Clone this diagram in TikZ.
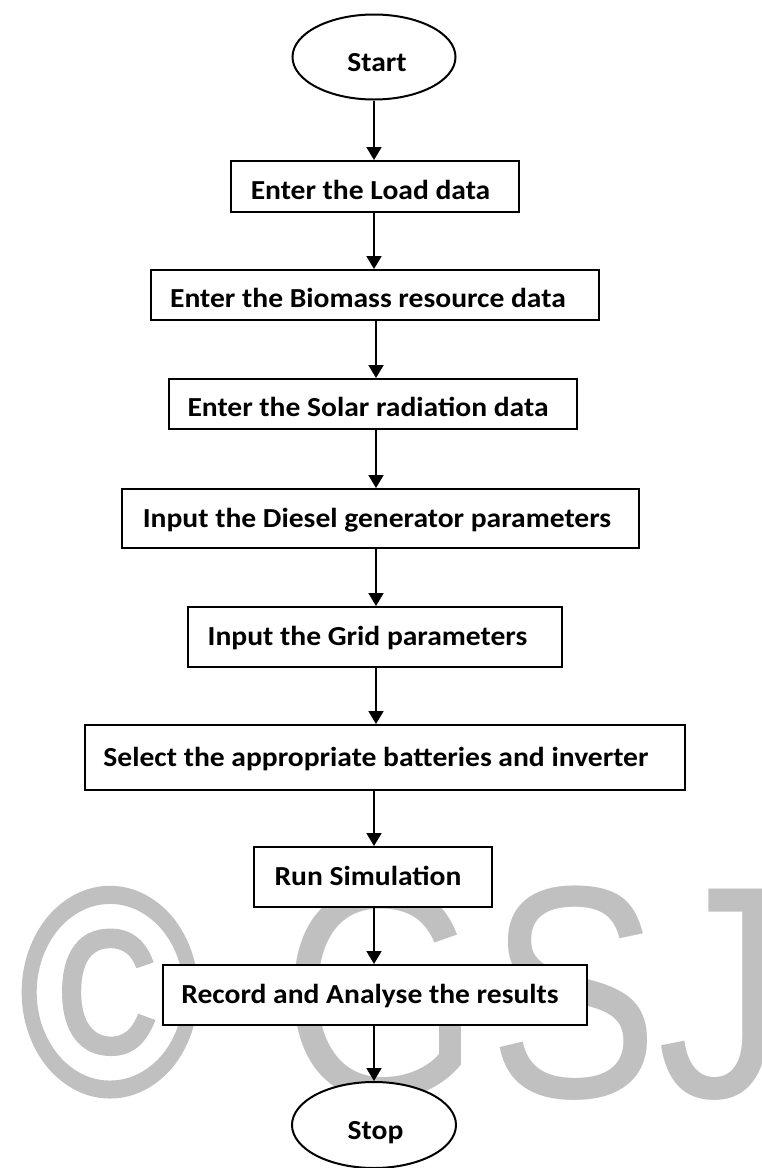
\documentclass[tikz,border=0pt]{standalone}
\usepackage{fontspec}
\usepackage{graphicx}
\setmainfont{Carlito}
\newfontfamily\wmfont{Liberation Sans}
\newfontfamily\wmfontb[FakeBold=1.5]{Liberation Sans}
\usetikzlibrary{arrows.meta,shapes.geometric}
\definecolor{wmgray}{RGB}{192,192,192}
\newcommand\bt[1]{\scalebox{1.075}[1]{#1}}
\begin{document}
\begin{tikzpicture}[x=1pt,y=-1pt,
  box/.style={draw, line width=2pt, fill=white, inner sep=0pt,
    font=\fontsize{27.5}{32}\selectfont\bfseries, text height=21pt, text depth=3.3pt},
  low/.style={text height=25pt, text depth=0pt},
  term/.style={ellipse, draw, line width=2pt, fill=white, inner sep=0pt,
    font=\fontsize{27.5}{32}\selectfont\bfseries, text height=28pt, text depth=0pt},
  arr/.style={line width=1.8pt, -{Triangle[width=15pt,length=13pt]}},
  wm/.style={text=wmgray, font=\wmfont\fontsize{303}{303}\selectfont, inner sep=0pt, anchor=base}
]
\useasboundingbox (0,0) rectangle (761,1168);
\fill[white] (0,0) rectangle (761,1168);
% watermark
\node[wm, font=\wmfontb\fontsize{295}{295}\selectfont] (wc) at (110,1094) {\scalebox{0.83}[1]{©}};
\node[wm] (wg) at (381,1097) {\scalebox{0.845}[1]{G}};
\node[wm] (ws) at (573.5,1097) {\scalebox{0.845}[1]{S}};
\node[wm] (wj) at (722,1097) {\scalebox{0.845}[1]{J}};
% flow
\node[term, minimum width=163pt, minimum height=85pt] (start) at (374,57) {\hspace*{6pt}\bt{Start}};
\node[box, low, minimum width=288pt, minimum height=51pt] (load) at (375,186.5) {\bt{Enter the Load data}\hspace*{9pt}};
\node[box, low, minimum width=448pt, minimum height=50pt] (bio) at (375,295) {\bt{Enter the Biomass resource data}\hspace*{14pt}};
\node[box, low, minimum width=408pt, minimum height=50pt] (solar) at (373,404) {\bt{Enter the Solar radiation data}\hspace*{10pt}};
\node[box, minimum width=517pt, minimum height=59pt] (diesel) at (380.5,518.5) {\bt{Input the Diesel generator parameters}\hspace*{7pt}};
\node[box, minimum width=374pt, minimum height=60pt] (grid) at (375,637) {\bt{Input the Grid parameters}\hspace*{15pt}};
\node[box, minimum width=600pt, minimum height=65pt] (batt) at (384.5,757.5) {\bt{Select the appropriate batteries and inverter}\hspace*{17pt}};
\node[box, minimum width=238pt, minimum height=60pt] (run) at (373,877) {\bt{Run Simulation}\hspace*{10pt}};
\node[box, minimum width=424pt, minimum height=60pt] (rec) at (375,995) {\bt{Record and Analyse the results}\hspace*{10pt}};
\node[term, minimum width=164pt, minimum height=86pt] (stop) at (374,1125) {\hspace*{3pt}\bt{Stop}};
\coordinate (ca) at (374,0);
\coordinate (cb) at (376,0);
\draw[arr] (start.south -| ca) -- (load.north -| ca);
\draw[arr] (load.south -| ca) -- (bio.north -| ca);
\draw[arr] (bio.south -| cb) -- (solar.north -| cb);
\draw[arr] (solar.south -| cb) -- (diesel.north -| cb);
\draw[arr] (diesel.south -| cb) -- (grid.north -| cb);
\draw[arr] (grid.south -| cb) -- (batt.north -| cb);
\draw[arr] (batt.south -| ca) -- (run.north -| ca);
\draw[arr] (run.south -| ca) -- (rec.north -| ca);
\draw[arr] (rec.south -| ca) -- (stop.north -| ca);
\end{tikzpicture}
\end{document}
